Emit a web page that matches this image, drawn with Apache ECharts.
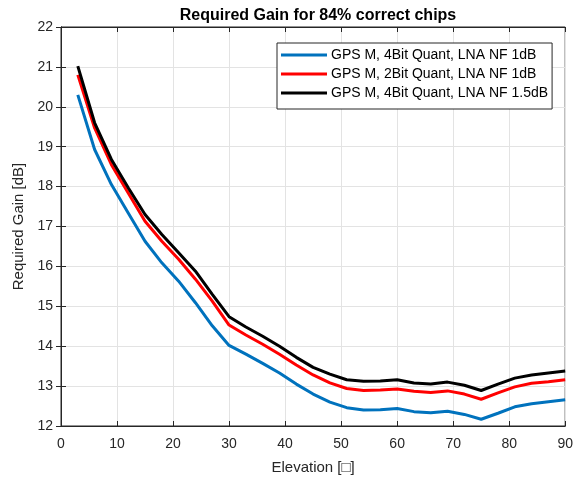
<!DOCTYPE html>
<html>
<head>
<meta charset="utf-8">
<script src="https://cdn.jsdelivr.net/npm/echarts@6/dist/echarts.min.js"></script>
<style>
  html, body { margin: 0; padding: 0; background: #fff; }
  #chart { width: 576px; height: 480px; }
</style>
</head>
<body>
<div id="chart"></div>
<script>
  // elevation samples (deg)
  const elevation = [3, 6, 9, 12, 15, 18, 21, 24, 27, 30, 33, 36, 39, 42, 45, 48, 51, 54, 57, 60, 63, 66, 69, 72, 75, 78, 81, 84, 87, 90]
  const gain4bit1dB = [20.3, 18.93, 18.05, 17.34, 16.63, 16.09, 15.63, 15.09, 14.51, 14.02, 13.8, 13.57, 13.33, 13.05, 12.8, 12.6, 12.46, 12.4, 12.41, 12.44, 12.36, 12.33, 12.37, 12.29, 12.17, 12.32, 12.48, 12.56, 12.61, 12.66]
  const gain2bit1dB = [20.8, 19.47, 18.55, 17.84, 17.13, 16.63, 16.18, 15.68, 15.13, 14.53, 14.28, 14.05, 13.8, 13.53, 13.28, 13.08, 12.94, 12.89, 12.9, 12.93, 12.87, 12.84, 12.88, 12.8, 12.67, 12.83, 12.98, 13.07, 13.11, 13.16]
  const gain4bit15dB = [21.02, 19.6, 18.68, 17.97, 17.3, 16.8, 16.34, 15.88, 15.3, 14.74, 14.48, 14.25, 14.0, 13.72, 13.47, 13.3, 13.16, 13.12, 13.13, 13.16, 13.08, 13.05, 13.1, 13.02, 12.89, 13.05, 13.2, 13.28, 13.33, 13.38]
  const seriesNames = ['GPS M, 4Bit Quant, LNA NF 1dB', 'GPS M, 2Bit Quant, LNA NF 1dB', 'GPS M, 4Bit Quant, LNA NF 1.5dB']
  const seriesColors = ['#0072BD', '#FF0000', '#000000']

  const myChart = echarts.init(document.getElementById('chart'))
  const axisColor = '#262626'
  const font = 'Arial, "Liberation Sans", sans-serif'

  function pairs(ys) {
    return elevation.map((x, i) => [x, ys[i]])
  }

  const seriesData = [gain4bit1dB, gain2bit1dB, gain4bit15dB]

  const option = {
    animation: false,
    backgroundColor: '#fff',
    title: {
      text: 'Required Gain for 84% correct chips',
      left: 313,
      textAlign: 'center',
      top: 3,
      textStyle: { fontFamily: font, fontSize: 16, fontWeight: 'bold', color: '#000' }
    },
    legend: {
      left: 277,
      top: 43,
      orient: 'vertical',
      data: seriesNames,
      backgroundColor: '#fff',
      borderColor: axisColor,
      borderWidth: 1,
      borderRadius: 0,
      padding: [5, 4, 9, 4],
      itemGap: 5,
      itemWidth: 46,
      itemHeight: 3,
      icon: 'rect',
      textStyle: { fontFamily: font, fontSize: 14, color: '#000', padding: [0, 0, 0, -1] }
    },
    grid: {
      left: 61,
      right: 9,
      top: 27,
      bottom: 53,
      show: true,
      borderColor: axisColor,
      borderWidth: 1
    },
    xAxis: [{
      type: 'value',
      min: 0,
      max: 90,
      interval: 10,
      name: 'Elevation [□]',
      nameLocation: 'middle',
      nameGap: 34,
      nameTextStyle: { fontFamily: font, fontSize: 15, color: axisColor },
      axisLine: { show: true, lineStyle: { color: axisColor } },
      axisTick: { show: true, inside: true, length: 5, lineStyle: { color: axisColor } },
      axisLabel: { fontFamily: font, fontSize: 14, color: axisColor, margin: 11 },
      splitLine: { show: true, lineStyle: { color: '#e3e3e3' } }
    }, {
      type: 'value',
      position: 'top',
      min: 0,
      max: 90,
      interval: 10,
      axisLine: { show: true, lineStyle: { color: axisColor } },
      axisTick: { show: true, inside: true, length: 5, lineStyle: { color: axisColor } },
      axisLabel: { show: false },
      splitLine: { show: false }
    }],
    yAxis: [{
      type: 'value',
      min: 12,
      max: 22,
      interval: 1,
      name: 'Required Gain [dB]',
      nameLocation: 'middle',
      nameGap: 27,
      nameTextStyle: { fontFamily: font, fontSize: 15, color: axisColor },
      axisLine: { show: true, lineStyle: { color: axisColor } },
      axisTick: { show: true, inside: true, length: 5, lineStyle: { color: axisColor } },
      axisLabel: { fontFamily: font, fontSize: 14, color: axisColor, margin: 8 },
      splitLine: { show: true, lineStyle: { color: '#e3e3e3' } }
    }, {
      type: 'value',
      position: 'right',
      min: 12,
      max: 22,
      interval: 1,
      axisLine: { show: true, lineStyle: { color: axisColor } },
      axisTick: { show: true, inside: true, length: 5, lineStyle: { color: axisColor } },
      axisLabel: { show: false },
      splitLine: { show: false }
    }],
    series: seriesNames.map((name, i) => ({
      name: name,
      type: 'line',
      data: pairs(seriesData[i]),
      showSymbol: false,
      symbol: 'none',
      color: seriesColors[i],
      lineStyle: { width: 3, color: seriesColors[i] }
    }))
  }
  option && myChart.setOption(option)
</script>
</body>
</html>
